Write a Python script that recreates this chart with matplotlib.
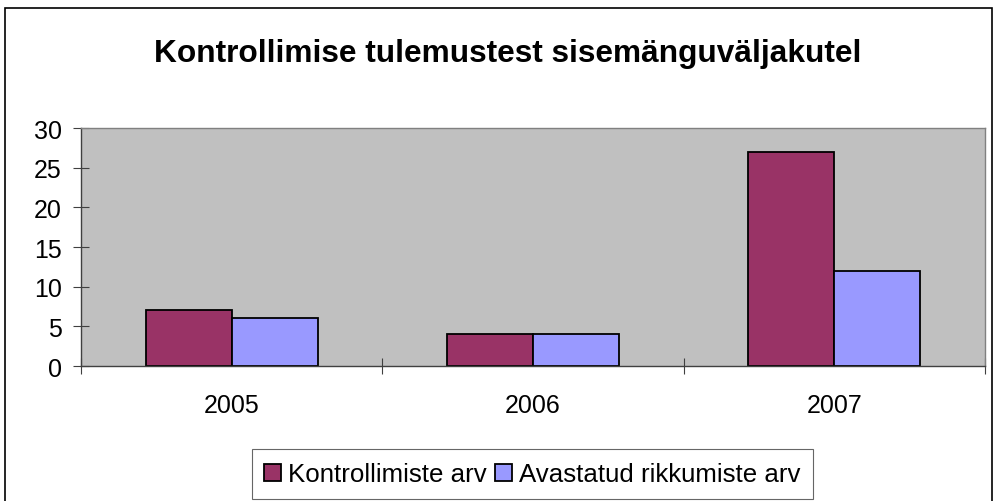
import numpy as np
import matplotlib
matplotlib.use('Agg')
import matplotlib.pyplot as plt
from matplotlib.patches import Rectangle

plt.rcParams['font.family'] = ['Liberation Sans', 'DejaVu Sans']

# Data
years = ['2005', '2006', '2007']
kontrollimiste = [7, 4, 27]
rikkumiste = [6, 4, 12]
series_names = ['Kontrollimiste arv', 'Avastatud rikkumiste arv']
title = 'Kontrollimise tulemustest sisemänguväljakutel'

fig = plt.figure(figsize=(9.95, 5.02), dpi=100)
ax = fig.add_axes([0.0814, 0.2689, 0.9085, 0.4741])
ax.set_facecolor('#C0C0C0')

x = np.arange(len(years))
w = 0.2857
ax.bar(x - w / 2, kontrollimiste, w, color='#993366', edgecolor='black', linewidth=1.3, label=series_names[0])
ax.bar(x + w / 2, rikkumiste, w, color='#9999FF', edgecolor='black', linewidth=1.3, label=series_names[1])

ax.set_xlim(-0.5, 2.5)
ax.set_ylim(0, 30)
ax.set_yticks(range(0, 31, 5))
ax.set_xticks(x)
ax.set_xticklabels(years)
ax.set_xticks([-0.5, 0.5, 1.5, 2.5], minor=True)
ax.tick_params(axis='x', which='major', length=0, pad=19.5, labelsize=18)
ax.tick_params(axis='x', which='minor', length=11.5, width=0.8, direction='inout', color='#404040')
ax.tick_params(axis='y', which='major', length=11.5, width=0.8, direction='inout', labelsize=18, pad=8,
               color='#404040')

for side in ['top', 'right']:
    ax.spines[side].set_color('#808080')
    ax.spines[side].set_linewidth(1.0)
for side in ['left', 'bottom']:
    ax.spines[side].set_color('#404040')
    ax.spines[side].set_linewidth(1.0)

fig.text(508 / 995, 1 - 54 / 502, title, ha='center', va='center', fontsize=22.8, fontweight='bold')

leg = fig.legend(loc='center', bbox_to_anchor=(0.535, 0.053), ncol=2, frameon=True, fancybox=False,
                 edgecolor='#404040', fontsize=18.6, handlelength=0.65, handleheight=0.65,
                 handletextpad=0.25, columnspacing=0.35, borderpad=0.5, borderaxespad=0)
leg.get_frame().set_linewidth(0.8)

# outer chart border
fig.patches.append(Rectangle((5 / 995, -0.01), 987 / 995, (502 - 9) / 502 + 0.01, transform=fig.transFigure,
                             fill=False, edgecolor='black', linewidth=1.2))

fig.savefig('out.png', dpi=100)
